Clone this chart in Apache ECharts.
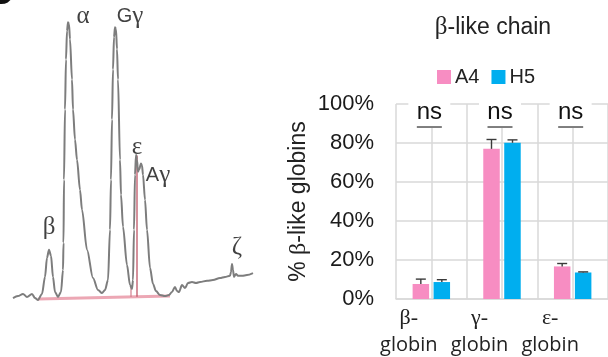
<!DOCTYPE html>
<html>
<head>
<meta charset="utf-8">
<script src="https://cdn.jsdelivr.net/npm/echarts@6/dist/echarts.min.js"></script>
<style>
  html, body { margin: 0; padding: 0; background: #fff; }
  #chart { width: 608px; height: 357px; }
</style>
</head>
<body>
<div id="chart"></div>
<script>
// HPLC trace of globin chains: [retention time (min), absorbance (% of max)]
const trace = [
  [0,0.7],[1,1.4],[2,2.2],[2.8,1.1],[3.8,2.2],[4.4,0.7],[5,0],[5.8,2.2],[6.4,8.3],[6.8,15.2],
  [7.2,18.1],[7.6,15.9],[8,8.3],[8.4,2.9],[9,1.1],[9.6,2.9],[10,10.8],[10.1,20.6],[10.2,43.3],
  [10.4,68.6],[10.6,86.6],[10.8,96.8],[11,100],[11.2,99.3],[11.4,93.9],[11.8,79.4],[12,68.6],
  [12.4,57.8],[12.8,50.5],[13.4,39.7],[13.8,32.5],[14.8,18.1],[16,7.9],[17,3.6],[17.8,2.5],
  [18.4,3.6],[19,7.2],[19.4,25.3],[19.6,43.3],[19.8,65],[20,83],[20.2,94.6],[20.4,98.2],
  [20.6,97.5],[20.8,90.3],[21,79.4],[21.4,50.5],[21.6,37.9],[22,26.4],[22.8,12.6],[23.4,5.4],
  [23.8,4],[24,7.2],[24.2,25.3],[24.4,45.1],[24.6,52.3],[24.8,50.5],[25,46.2],[25.2,46.9],
  [25.6,49.1],[25.8,48.4],[26,45.1],[26.4,36.1],[26.8,25.3],[27.4,11.6],[28,5.8],[28.6,3.2],
  [29.4,1.8],[30.4,1.4],[31.2,1.8],[31.8,2.9],[32.4,4.7],[32.8,3.2],[33.2,2.9],[33.8,5.4],
  [34.4,4.3],[35,6.1],[35.8,6.5],[36.6,6.1],[37.4,6.5],[38.8,6.9],[40,7.2],[41.4,7.9],
  [42.4,8.3],[43.4,8.7],[43.6,10.1],[43.8,13],[44,10.8],[44.2,8.3],[44.6,9.4],[45,8.7],
  [45.8,8.7],[46.8,9],[48,9.7]
];
// integration baseline and peak split marks
const baseline = [[5,0.4],[31.4,1.4]];
const splitEps = [[24.8,1.2],[24.8,52]];
const splitGg = [[23.6,1.1],[23.6,5]];

// peak names and where their tags sit
const peakNames = ['β','α','Gγ','ε','Aγ','ζ'];
const peakTagTime = [7.2, 14, 23.4, 24.8, 29, 44.8];
const peakTagLevel = [26.3, 102, 102, 55, 45, 19.1];

// bar chart data
const categories = ['β-globin','γ-globin','ε-globin'];
const catPrefix = ['β-','γ-','ε-'];
const seriesNames = ['A4','H5'];
const a4Values = [7.7, 77.0, 16.7];
const a4Errors = [2.5, 4.8, 1.5];
const h5Values = [8.7, 80.1, 13.6];
const h5Errors = [1.2, 1.5, 0.3];
const sigLabels = ['ns','ns','ns'];
const yTicks = [0, 20, 40, 60, 80, 100];

const PINK = '#f78dc2';
const BLUE = '#00aeef';
const GRID = '#d9d9d9';
const SANS = '"Liberation Sans", Arial, sans-serif';
const SERIF = '"Liberation Serif", "DejaVu Serif", serif';

const chart = echarts.init(document.getElementById('chart'), null, { renderer: 'canvas' });

function tagFormatter(name) {
  return name.split('').map(c => /[A-Za-z]/.test(c) ? '{lat|' + c + '}' : '{gr|' + c + '}').join('');
}

const barOffset = 10.5;
function errorBarRenderer(offset) {
  return function (params, api) {
    const cat = api.value(0);
    const v = api.value(1);
    const e = api.value(2);
    const p0 = api.coord([cat, v]);
    const p1 = api.coord([cat, v + e]);
    const x = p0[0] + offset;
    const style = { stroke: '#3a3a3a', lineWidth: 1.4 };
    return {
      type: 'group',
      children: [
        { type: 'line', shape: { x1: x, y1: p0[1], x2: x, y2: p1[1] }, style: style },
        { type: 'line', shape: { x1: x - 5, y1: p1[1], x2: x + 5, y2: p1[1] }, style: style }
      ]
    };
  };
}

const option = {
  backgroundColor: '#fff',
  animation: false,
  graphic: [
    { type: 'text', x: 15, y: 12, style: { text: 'D', font: 'bold 36px ' + SANS, fill: '#111', textAlign: 'right', textVerticalAlign: 'bottom' } }
  ],
  title: {
    text: '{gr|β}{s|-like chain}',
    left: 488, top: 10, textAlign: 'center',
    textStyle: {
      fontWeight: 'normal',
      rich: {
        gr: { fontFamily: SERIF, fontSize: 25, color: '#222', fontWeight: 'normal' },
        s: { fontFamily: SANS, fontSize: 23, color: '#222', fontWeight: 'normal' }
      }
    }
  },
  legend: {
    data: seriesNames,
    left: 437, top: 67, padding: 0,
    itemWidth: 14, itemHeight: 14, itemGap: 12,
    icon: 'rect',
    textStyle: { fontFamily: SANS, fontSize: 20, color: '#222', padding: [0, 0, 0, -1] }
  },
  grid: [
    { left: 13, width: 240, top: 0, height: 300 },
    { left: 396, width: 213, top: 104, height: 195 }
  ],
  xAxis: [
    { gridIndex: 0, type: 'value', min: 0, max: 48, show: false },
    {
      gridIndex: 1, type: 'category', data: categories,
      axisLine: { show: true, lineStyle: { color: GRID, width: 1.5 } },
      axisTick: { show: false },
      splitLine: { show: false },
      axisLabel: {
        margin: 6,
        interval: 0,
        padding: [0, 45, 0, 0],
        formatter: function (v, i) { return '{p|' + catPrefix[i] + '}\n{g|globin}'; },
        rich: {
          p: { fontFamily: SERIF, fontSize: 22, color: '#222', lineHeight: 27 },
          g: { fontFamily: '"Open Sans", ' + SANS, fontSize: 20, color: '#222', lineHeight: 27 }
        }
      }
    },
    {
      gridIndex: 1, type: 'value', min: 0, max: 3, interval: 0.5, show: true,
      axisLine: { show: false }, axisTick: { show: false }, axisLabel: { show: false },
      splitLine: { show: true, showMinLine: true, showMaxLine: true, lineStyle: { color: GRID, width: 1.5 } }
    }
  ],
  yAxis: [
    { gridIndex: 0, type: 'value', min: 0, max: 108, show: false },
    {
      gridIndex: 1, type: 'value', min: 0, max: 100, interval: 20,
      axisLine: { show: false }, axisTick: { show: false },
      splitLine: { show: true, lineStyle: { color: GRID, width: 1.5 } },
      axisLabel: {
        margin: 22,
        fontFamily: SANS, fontSize: 22, color: '#1a1a1a',
        formatter: function (v) { return yTicks.indexOf(v) >= 0 ? v + '%' : ''; }
      },
      name: '{s|% }{gr|β}{s|-like globins}',
      nameLocation: 'middle',
      nameGap: 85,
      nameRotate: 90,
      nameTextStyle: {
        rich: {
          s: { fontFamily: SANS, fontSize: 23, color: '#222' },
          gr: { fontFamily: SERIF, fontSize: 24, color: '#222' }
        }
      }
    }
  ],
  series: [
    {
      name: 'trace', type: 'line', xAxisIndex: 0, yAxisIndex: 0,
      data: trace, showSymbol: false, smooth: 0.3, smoothMonotone: 'x',
      lineStyle: { color: '#7d7d7d', width: 2 }, silent: true, z: 3
    },
    {
      name: 'baseline', type: 'line', xAxisIndex: 0, yAxisIndex: 0,
      data: baseline, showSymbol: false,
      lineStyle: { color: 'rgba(226,120,140,0.65)', width: 3 }, silent: true, z: 2
    },
    {
      name: 'split1', type: 'line', xAxisIndex: 0, yAxisIndex: 0,
      data: splitEps, showSymbol: false,
      lineStyle: { color: '#bf5566', width: 1.3 }, silent: true, z: 2
    },
    {
      name: 'split2', type: 'line', xAxisIndex: 0, yAxisIndex: 0,
      data: splitGg, showSymbol: false,
      lineStyle: { color: '#d27f8e', width: 1.2 }, silent: true, z: 2
    },
    {
      name: 'peaks', type: 'scatter', xAxisIndex: 0, yAxisIndex: 0,
      symbolSize: 0, silent: true, clip: false,
      data: peakNames.map((n, i) => ({ name: n, value: [peakTagTime[i], peakTagLevel[i]] })),
      label: {
        show: true, position: 'inside',
        formatter: p => tagFormatter(p.name),
        rich: {
          lat: { fontFamily: SANS, fontSize: 20, color: '#111' },
          gr: { fontFamily: SERIF, fontSize: 25, color: '#111' }
        }
      }
    },
    {
      name: 'A4', type: 'bar', xAxisIndex: 1, yAxisIndex: 1,
      data: a4Values, barWidth: 16.5, barGap: '27%',
      itemStyle: { color: PINK }
    },
    {
      name: 'H5', type: 'bar', xAxisIndex: 1, yAxisIndex: 1,
      data: h5Values, barWidth: 16.5, barGap: '27%',
      itemStyle: { color: BLUE }
    },
    {
      name: 'A4 err', type: 'custom', xAxisIndex: 1, yAxisIndex: 1,
      data: a4Values.map((v, i) => [i, v, a4Errors[i]]),
      renderItem: errorBarRenderer(-barOffset), silent: true, z: 5
    },
    {
      name: 'H5 err', type: 'custom', xAxisIndex: 1, yAxisIndex: 1,
      data: h5Values.map((v, i) => [i, v, h5Errors[i]]),
      renderItem: errorBarRenderer(barOffset), silent: true, z: 5
    },
    {
      name: 'sig', type: 'custom', xAxisIndex: 1, yAxisIndex: 1,
      data: sigLabels.map((s, i) => [i, s]),
      silent: true, z: 6, clip: false,
      renderItem: function (params, api) {
        const cat = api.value(0);
        const top = api.coord([cat, 103]);
        const txt = api.coord([cat, 95.5]);
        const ln = api.coord([cat, 88.2]);
        const cx = top[0] - 2;
        return {
          type: 'group',
          children: [
            { type: 'rect', shape: { x: cx - 21, y: top[1], width: 42, height: ln[1] - top[1] + 1 }, style: { fill: '#fff' } },
            { type: 'text', x: cx, y: txt[1], style: { text: sigLabels[params.dataIndex], font: '24px ' + SANS, fill: '#111', textAlign: 'center', textVerticalAlign: 'middle' } },
            { type: 'line', shape: { x1: cx - 12.5, y1: ln[1], x2: cx + 12.5, y2: ln[1] }, style: { stroke: '#555', lineWidth: 1.5 } }
          ]
        };
      }
    }
  ]
};

chart.setOption(option);
</script>
</body>
</html>
